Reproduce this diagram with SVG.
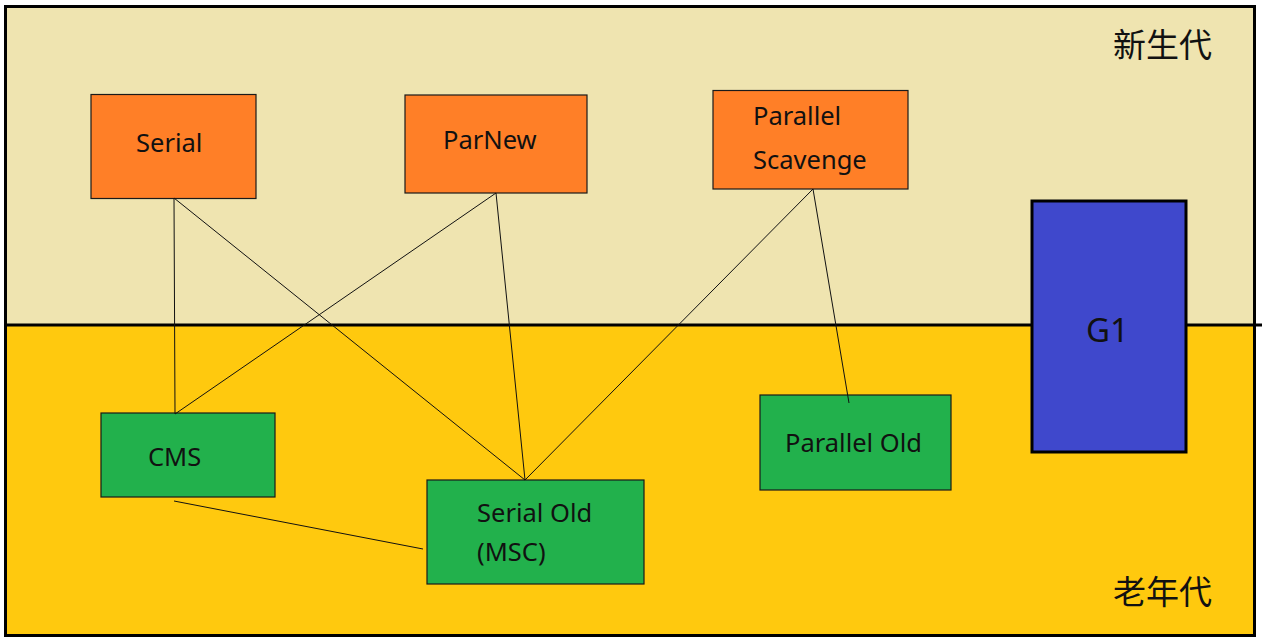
<svg xmlns="http://www.w3.org/2000/svg" width="1262" height="643" viewBox="0 0 1262 643">
<style>
.box{stroke:#1a1a1a;stroke-width:1.2}
.young{fill:#FF7F27}
.old{fill:#22B14C}
.lbl{font-family:"Noto Sans","Open Sans",sans-serif;font-size:25.5px;fill:#111}
.cjk{font-family:"Noto Sans CJK SC","Noto Sans",sans-serif;font-size:33px;fill:#111}
.conn line{stroke:#111;stroke-width:1}
</style>
<rect width="1262" height="643" fill="#ffffff"/>
<g id="regions">
<rect x="6" y="7" width="1248" height="318" fill="#EFE4B0"/>
<rect x="6" y="325" width="1248" height="310" fill="#FFC90E"/>
<rect x="5.5" y="6.5" width="1249" height="629" fill="none" stroke="#000" stroke-width="3"/>
<line x1="5" y1="325" x2="1262" y2="325" stroke="#000" stroke-width="3"/>
<text class="cjk" x="1113" y="57">新生代</text>
<text class="cjk" x="1113" y="604">老年代</text>
</g>
<g id="n-serial"><rect class="box young" x="91" y="94.5" width="165" height="104"/><text class="lbl" x="136" y="152">Serial</text></g>
<g id="n-parnew"><rect class="box young" x="405" y="95" width="182" height="98"/><text class="lbl" x="443" y="149">ParNew</text></g>
<g id="n-ps"><rect class="box young" x="713" y="90.5" width="195" height="98.5"/><text class="lbl" x="753" y="125">Parallel</text><text class="lbl" x="753" y="169">Scavenge</text></g>
<g id="n-g1"><rect x="1032" y="201" width="154" height="251" fill="#3F48CC" stroke="#000" stroke-width="3"/><text class="lbl" x="1086" y="342" style="font-size:33px">G1</text></g>
<g id="n-cms"><rect class="box old" x="101" y="413" width="174" height="84"/><text class="lbl" x="148" y="466">CMS</text></g>
<g id="n-serialold"><rect class="box old" x="427" y="480" width="217" height="104"/><text class="lbl" x="477" y="522">Serial Old</text><text class="lbl" x="477" y="561">(MSC)</text></g>
<g id="n-parallelold"><rect class="box old" x="760" y="395" width="191" height="95"/><text class="lbl" x="785" y="452">Parallel Old</text></g>
<g class="conn" id="connectors">
<line x1="174" y1="198" x2="175" y2="414"/>
<line x1="174" y1="198" x2="525" y2="480"/>
<line x1="496" y1="193" x2="175" y2="414"/>
<line x1="496" y1="193" x2="525" y2="480"/>
<line x1="813" y1="189" x2="525" y2="480"/>
<line x1="813" y1="189" x2="849" y2="403"/>
<line x1="174" y1="501" x2="423" y2="549"/>
</g>
</svg>
